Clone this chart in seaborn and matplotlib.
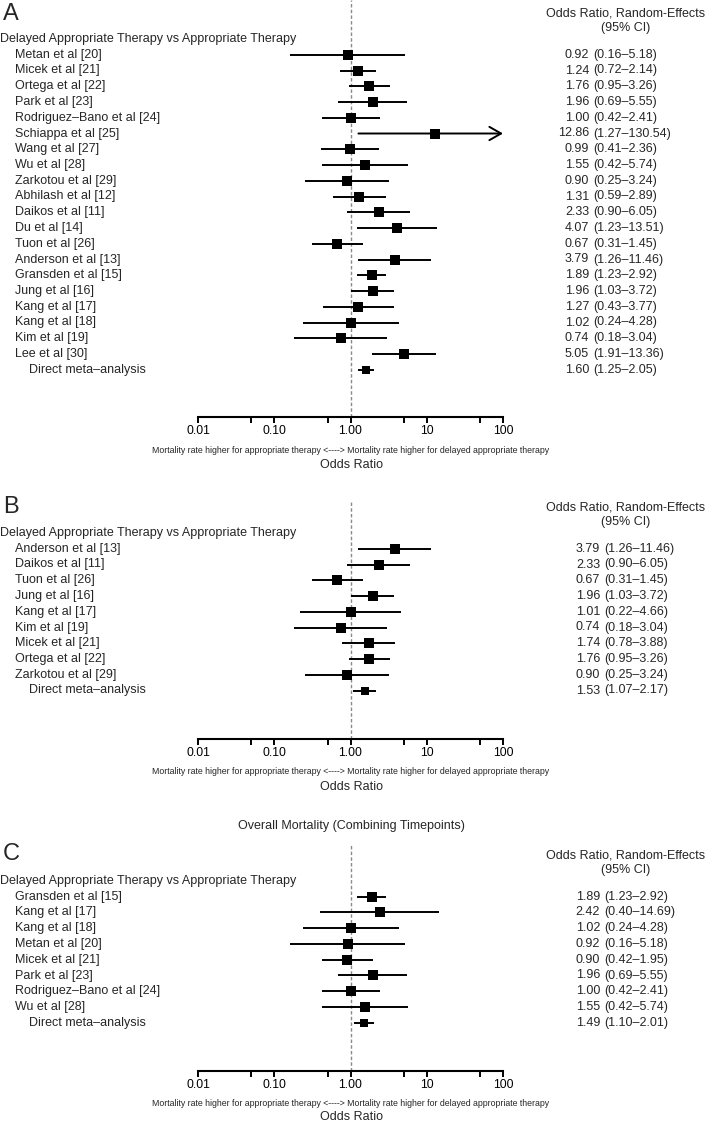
import numpy as np
import pandas as pd
import matplotlib
matplotlib.use("Agg")
import matplotlib.pyplot as plt
import matplotlib.transforms as mtrans
import seaborn as sns

# ---------------- data ----------------
a_studies = ["Metan et al [20]", "Micek et al [21]", "Ortega et al [22]", "Park et al [23]",
             "Rodriguez\u2013Bano et al [24]", "Schiappa et al [25]", "Wang et al [27]", "Wu et al [28]",
             "Zarkotou et al [29]", "Abhilash et al [12]", "Daikos et al [11]", "Du et al [14]",
             "Tuon et al [26]", "Anderson et al [13]", "Gransden et al [15]", "Jung et al [16]",
             "Kang et al [17]", "Kang et al [18]", "Kim et al [19]", "Lee et al [30]"]
a_or = [0.92, 1.24, 1.76, 1.96, 1.00, 12.86, 0.99, 1.55, 0.90, 1.31, 2.33, 4.07, 0.67, 3.79, 1.89, 1.96, 1.27, 1.02, 0.74, 5.05]
a_lo = [0.16, 0.72, 0.95, 0.69, 0.42, 1.27, 0.41, 0.42, 0.25, 0.59, 0.90, 1.23, 0.31, 1.26, 1.23, 1.03, 0.43, 0.24, 0.18, 1.91]
a_hi = [5.18, 2.14, 3.26, 5.55, 2.41, 130.54, 2.36, 5.74, 3.24, 2.89, 6.05, 13.51, 1.45, 11.46, 2.92, 3.72, 3.77, 4.28, 3.04, 13.36]
a_meta = [1.60, 1.25, 2.05]

b_studies = ["Anderson et al [13]", "Daikos et al [11]", "Tuon et al [26]", "Jung et al [16]",
             "Kang et al [17]", "Kim et al [19]", "Micek et al [21]", "Ortega et al [22]", "Zarkotou et al [29]"]
b_or = [3.79, 2.33, 0.67, 1.96, 1.01, 0.74, 1.74, 1.76, 0.90]
b_lo = [1.26, 0.90, 0.31, 1.03, 0.22, 0.18, 0.78, 0.95, 0.25]
b_hi = [11.46, 6.05, 1.45, 3.72, 4.66, 3.04, 3.88, 3.26, 3.24]
b_meta = [1.53, 1.07, 2.17]

c_studies = ["Gransden et al [15]", "Kang et al [17]", "Kang et al [18]", "Metan et al [20]",
             "Micek et al [21]", "Park et al [23]", "Rodriguez\u2013Bano et al [24]", "Wu et al [28]"]
c_or = [1.89, 2.42, 1.02, 0.92, 0.90, 1.96, 1.00, 1.55]
c_lo = [1.23, 0.40, 0.24, 0.16, 0.42, 0.69, 0.42, 0.42]
c_hi = [2.92, 14.69, 4.28, 5.18, 1.95, 5.55, 2.41, 5.74]
c_meta = [1.49, 1.10, 2.01]

tick_vals = [0.01, 0.1, 1, 10, 100]
tick_labels = ["0.01", "0.10", "1.00", "10", "100"]
minor_vals = [0.05, 0.5, 5, 50]

header_txt = "Delayed Appropriate Therapy vs Appropriate Therapy"
meta_txt = "Direct meta\u2013analysis"
col_title = "Odds Ratio, Random-Effects"
col_sub = "(95% CI)"
note_txt = ("Mortality rate higher for appropriate therapy <----> "
            "Mortality rate higher for delayed appropriate therapy")
xlab = "Odds Ratio"
c_title = "Overall Mortality (Combining Timepoints)"

# ---------------- style ----------------
sns.set_theme(style="white")
plt.rcParams["font.family"] = ["Liberation Sans", "DejaVu Sans"]

W, H = 707, 1123
fig = plt.figure(figsize=(W / 100, H / 100), dpi=100)
X0, X1 = 198, 503
STEP = 15.75
FS = 9


def fx(x):
    return x / W


def fy(y):
    return 1 - y / H


def panel(letter, studies, ors, los, his, meta, header_y, top_y, axis_y, letter_y,
          est_right, ci_left, note_y, xlab_y):
    n = len(studies)
    r_top = (top_y - header_y) / STEP
    r_bot = (axis_y - header_y) / STEP
    ax = fig.add_axes([fx(X0), fy(axis_y), (X1 - X0) / W, (axis_y - top_y) / H])
    ax.set_xscale("log")
    ax.set_xlim(0.01, 100)
    ax.set_ylim(r_bot, r_top)
    ax.patch.set_alpha(0)
    for s in ["top", "left", "right"]:
        ax.spines[s].set_visible(False)
    ax.spines["bottom"].set_color("black")
    ax.spines["bottom"].set_linewidth(1.5)
    ax.set_yticks([])
    ax.set_xticks(tick_vals)
    ax.set_xticklabels(tick_labels)
    ax.set_xticks(minor_vals, minor=True)
    ax.xaxis.set_minor_formatter(matplotlib.ticker.NullFormatter())
    ax.tick_params(axis="x", which="both", bottom=True, direction="out", length=4,
                   width=1.4, color="black", labelsize=8.8, pad=2, labelcolor="black")
    ax.grid(False)
    ax.axvline(1, color="#8a8a8a", ls=(0, (2.5, 1.6)), lw=1.0, zorder=1)

    rows = np.arange(1, n + 1)
    df = pd.DataFrame({"or": ors, "lo": los, "hi": his, "row": rows})
    inside = df[df["hi"] <= 100]
    ax.hlines(inside["row"], inside["lo"], inside["hi"], color="black", lw=1.4, zorder=2)
    for _, r in df[df["hi"] > 100].iterrows():
        ax.annotate("", xy=(ax.get_xlim()[1], r["row"]), xytext=(r["lo"], r["row"]),
                    arrowprops=dict(arrowstyle="->,head_length=0.7,head_width=0.4",
                                    lw=1.4, color="black", shrinkA=0, shrinkB=0),
                    annotation_clip=False, zorder=2)
    sns.scatterplot(data=df, x="or", y="row", marker="s", s=48, color="black",
                    edgecolor="black", linewidth=0, ax=ax, zorder=3, legend=False)
    mrow = n + 1
    ax.hlines([mrow], [meta[1]], [meta[2]], color="black", lw=1.4, zorder=2)
    sns.scatterplot(x=[meta[0]], y=[mrow], marker="s", s=36, color="black",
                    edgecolor="black", linewidth=0, ax=ax, zorder=3, legend=False)
    ax.set_xlabel("")
    ax.set_ylabel("")

    tr = mtrans.blended_transform_factory(fig.transFigure, ax.transData)
    ax.text(fx(0), 0, header_txt, transform=tr, ha="left", va="center", fontsize=FS)
    for i, s in enumerate(studies):
        ax.text(fx(15), i + 1, s, transform=tr, ha="left", va="center", fontsize=FS)
    ax.text(fx(29), mrow, meta_txt, transform=tr, ha="left", va="center", fontsize=FS)

    ests = list(ors) + [meta[0]]
    lo_all = list(los) + [meta[1]]
    hi_all = list(his) + [meta[2]]
    for i in range(n + 1):
        ax.text(fx(est_right), i + 1, f"{ests[i]:.2f}", transform=tr, ha="right",
                va="center", fontsize=FS)
        ax.text(fx(ci_left), i + 1, f"({lo_all[i]:.2f}\u2013{hi_all[i]:.2f})", transform=tr,
                ha="left", va="center", fontsize=FS)

    fig.text(fx(626), fy(header_y - 25), col_title, ha="center", va="center", fontsize=FS)
    fig.text(fx(626), fy(header_y - 11), col_sub, ha="center", va="center", fontsize=FS)
    fig.text(fx(3), fy(letter_y), letter, ha="left", va="center", fontsize=17)
    fig.text(fx(351), fy(note_y), note_txt, ha="center", va="center", fontsize=6.3)
    fig.text(fx(351), fy(xlab_y), xlab, ha="center", va="center", fontsize=FS)
    return ax


panel("A", a_studies, a_or, a_lo, a_hi, a_meta, header_y=39, top_y=0, axis_y=417,
      letter_y=14, est_right=589, ci_left=593, note_y=450, xlab_y=465)
panel("B", b_studies, b_or, b_lo, b_hi, b_meta, header_y=533, top_y=500, axis_y=739,
      letter_y=507, est_right=600, ci_left=604, note_y=772, xlab_y=787)
panel("C", c_studies, c_or, c_lo, c_hi, c_meta, header_y=881, top_y=845, axis_y=1071,
      letter_y=854, est_right=600, ci_left=604, note_y=1103, xlab_y=1117)
fig.text(fx(351), fy(826), c_title, ha="center", va="center", fontsize=FS)

fig.savefig("out.png", dpi=100, facecolor="white")
